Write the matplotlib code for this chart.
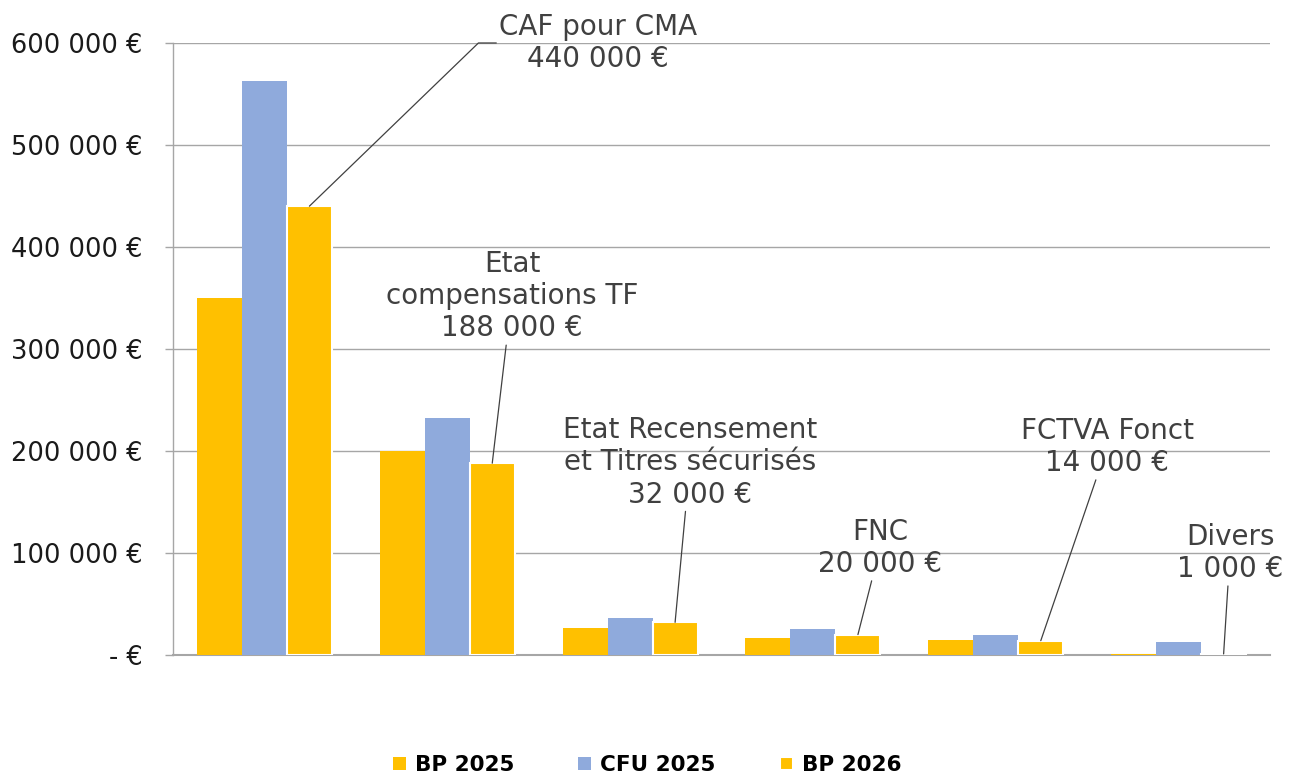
import matplotlib
matplotlib.use("Agg")
import matplotlib.pyplot as plt
import matplotlib.ticker as mticker
import numpy as np

series = ["BP 2025", "CFU 2025", "BP 2026"]
bp2025 = [350000, 200000, 26000, 17000, 15000, 1000]
cfu2025 = [563000, 232000, 36000, 25500, 20000, 13000]
bp2026 = [440000, 188000, 32000, 20000, 14000, 1000]
labels = ["CAF pour CMA\n440 000 €",
          "Etat\ncompensations TF\n188 000 €",
          "Etat Recensement\net Titres sécurisés\n32 000 €",
          "FNC\n20 000 €",
          "FCTVA Fonct\n14 000 €",
          "Divers\n1 000 €"]
yticks = [0, 100000, 200000, 300000, 400000, 500000, 600000]

orange = "#FFC000"
blue = "#8FAADC"
grid = "#A6A6A6"

fig = plt.figure(figsize=(12.94, 7.73), dpi=100)
ax = fig.add_axes([0.1337, 0.1527, 0.8478, 0.7917])

x = np.arange(len(bp2025))
w = 0.246
ax.bar(x - w, bp2025, w, color=orange, label=series[0], zorder=3)
ax.bar(x, cfu2025, w, color=blue, label=series[1], zorder=3)
ax.bar(x + w, bp2026, w, color=orange, edgecolor="white", linewidth=1.5,
       label=series[2], zorder=3)

ax.set_xlim(-0.5, 5.5)
ax.set_ylim(0, 600000)
ax.set_yticks(yticks)

def eur(v, pos):
    if v == 0:
        return "- €"
    return f"{int(v):,} €".replace(",", " ")

ax.yaxis.set_major_formatter(mticker.FuncFormatter(eur))
ax.tick_params(axis="y", length=6, width=1, color=grid, pad=16,
               labelsize=18.5, labelcolor="#1a1a1a")
ax.set_xticks([])
ax.grid(axis="y", color=grid, linewidth=1, zorder=0)
for s in ["top", "right"]:
    ax.spines[s].set_visible(False)
ax.spines["left"].set_color(grid)
ax.spines["bottom"].set_color(grid)
ax.spines["left"].set_linewidth(1)
ax.spines["bottom"].set_linewidth(1.5)

# text centres for the data labels (data coords)
txt_pos = [(1.825, 600000), (1.354, 352000), (2.328, 189000),
           (3.367, 105000), (4.609, 204000), (5.281, 100000)]
for i, lab in enumerate(labels):
    if i == 0:
        ap = dict(arrowstyle="-", color="#404040", lw=0.9, shrinkA=0,
                  shrinkB=0, relpos=(0, 0.5),
                  connectionstyle="angle,angleA=180,angleB=44,rad=0")
    else:
        ap = dict(arrowstyle="-", color="#404040", lw=0.9, shrinkA=0,
                  shrinkB=0)
    ax.annotate(lab, xy=(x[i] + w, bp2026[i]), xytext=txt_pos[i],
                ha="center", va="center", fontsize=20, color="#404040",
                linespacing=1.2, annotation_clip=False, arrowprops=ap)

fig.legend(loc="center", bbox_to_anchor=(0.5, 0.0103), ncol=3, frameon=False,
           handlelength=0.6, handleheight=0.6, columnspacing=3.0,
           handletextpad=0.4, prop={"weight": "bold", "size": 15.5})

fig.savefig("out.png", dpi=100)
